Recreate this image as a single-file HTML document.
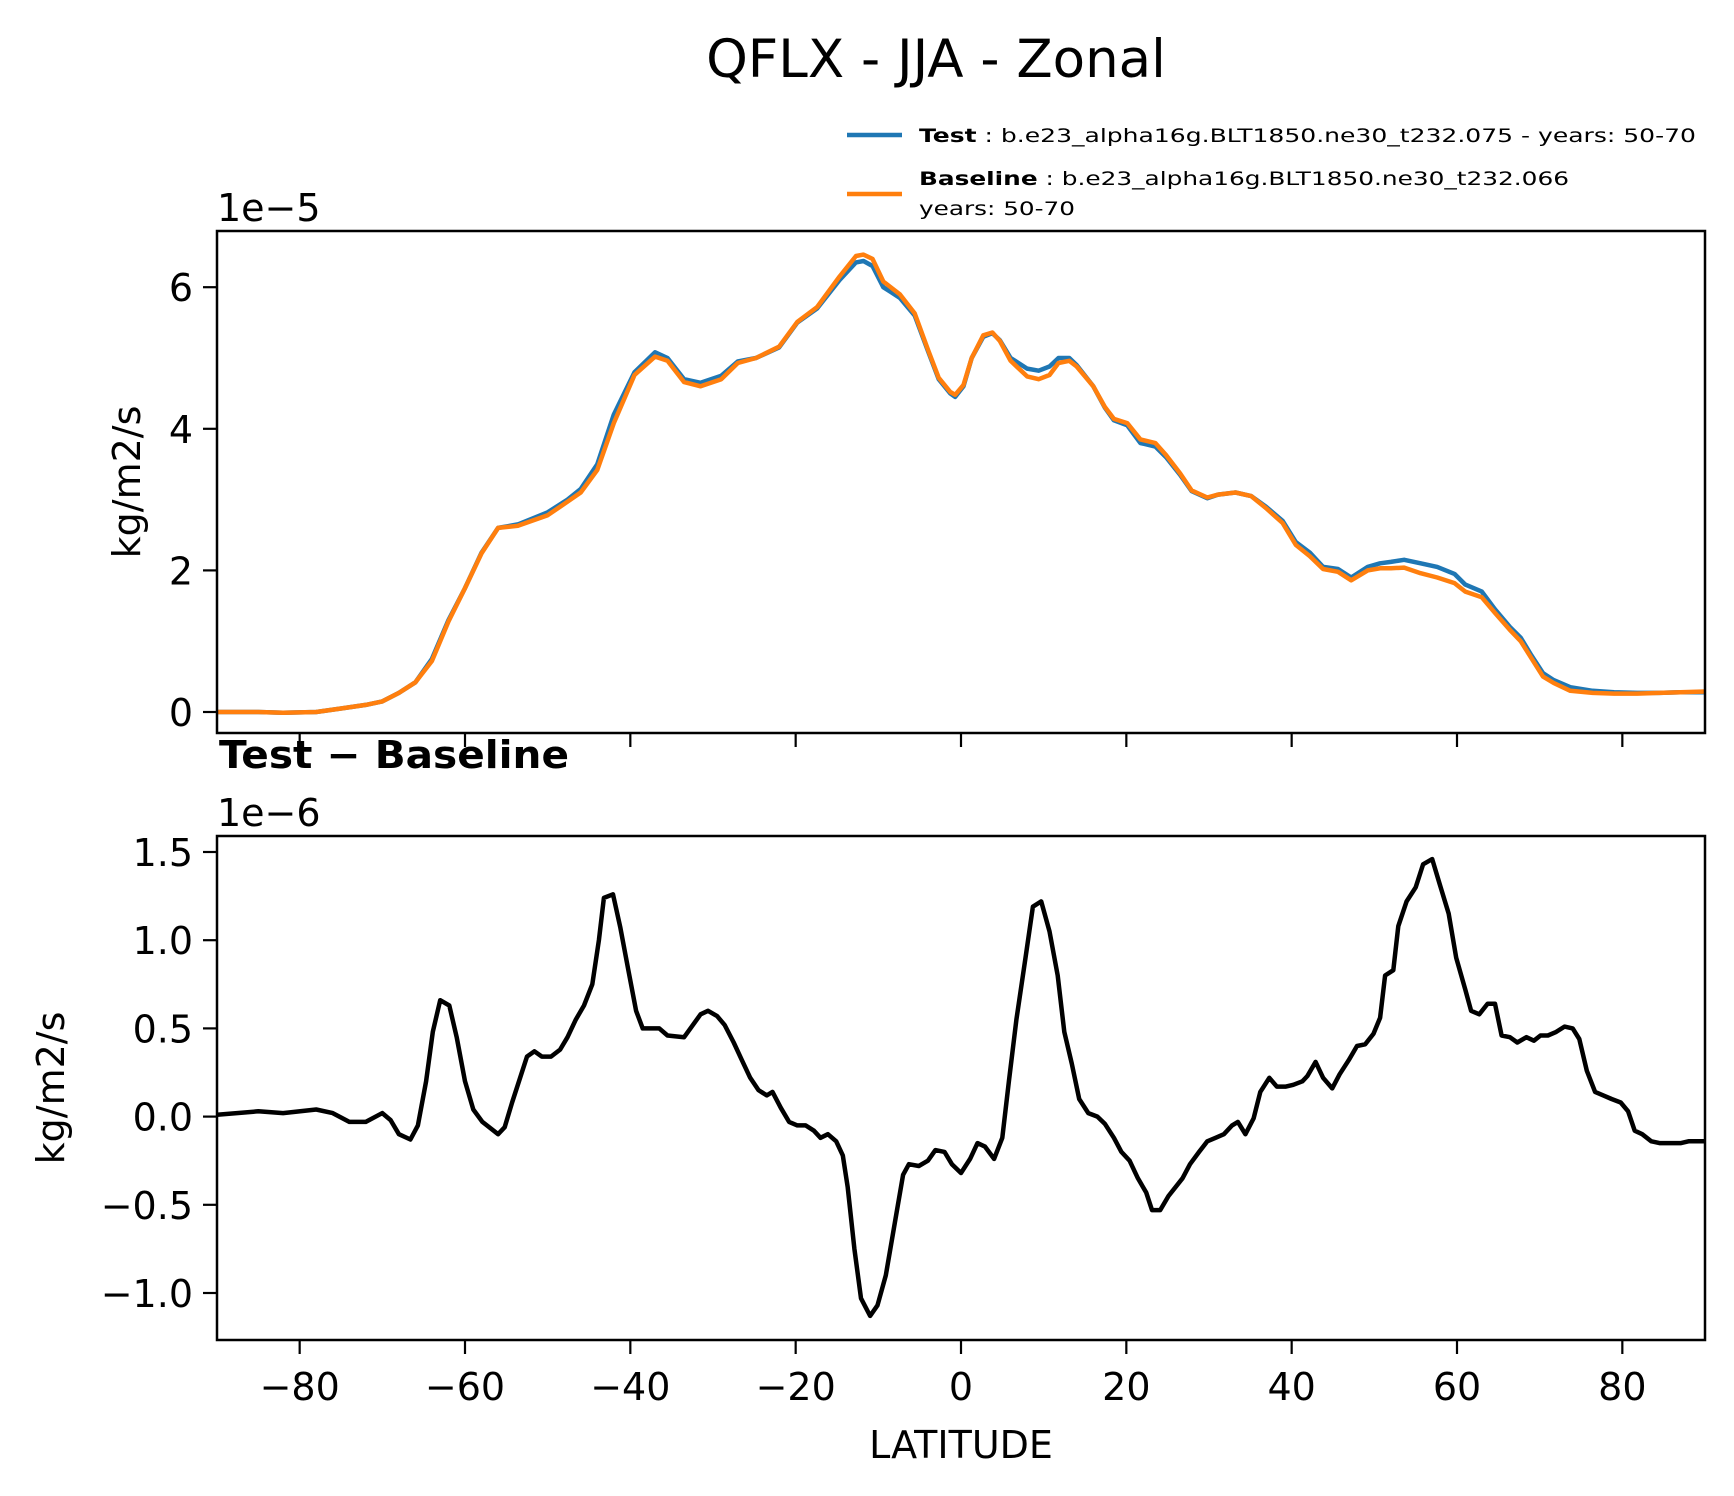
<!DOCTYPE html>
<html><head><meta charset="utf-8"><style>
html,body{margin:0;padding:0;background:#fff;}
svg{display:block;font-family:"DejaVu Sans","Liberation Sans",sans-serif;}
</style></head><body>
<svg id="fig" width="1734" height="1496" viewBox="0 0 1734 1496" xmlns="http://www.w3.org/2000/svg">
<text x="936" y="77" font-size="53" text-anchor="middle">QFLX - JJA - Zonal</text>
<g>
<line x1="847" y1="135" x2="902" y2="135" stroke="#1f77b4" stroke-width="4.5"/>
<text x="919" y="142" font-size="19" textLength="777" lengthAdjust="spacingAndGlyphs"><tspan font-weight="bold">Test</tspan> : b.e23_alpha16g.BLT1850.ne30_t232.075 - years: 50-70</text>
<line x1="847" y1="194" x2="902" y2="194" stroke="#ff7f0e" stroke-width="4.5"/>
<text x="919" y="185" font-size="19" textLength="650" lengthAdjust="spacingAndGlyphs"><tspan font-weight="bold">Baseline</tspan> : b.e23_alpha16g.BLT1850.ne30_t232.066</text>
<text x="919" y="215" font-size="19" textLength="156" lengthAdjust="spacingAndGlyphs">years: 50-70</text>
</g>
<g id="top"></g>
<g id="bot"></g>
<text x="219" y="768" font-size="38" font-weight="bold" textLength="350" lengthAdjust="spacingAndGlyphs">Test − Baseline</text>
<text x="961" y="1458" font-size="38" text-anchor="middle">LATITUDE</text>
</svg>
<script>
const topLat=[-90,-85,-82,-78,-75,-72,-70,-68,-66,-64,-62,-60,-58,-56,-53.6,-50,-47.6,-46,-44,-42,-39.5,-37,-35.5,-33.5,-31.5,-29,-27,-24.8,-22,-19.8,-17.4,-14.7,-12.7,-11.8,-10.7,-9.4,-7.4,-5.6,-4,-2.7,-1.3,-0.7,0.3,1.3,2.7,3.8,4.7,6,8,9.4,10.7,11.8,13.1,14,16,17.4,18.5,20.1,21.7,23.5,24.8,26.5,27.9,29.8,31.1,33.2,35.1,36.9,38.9,40.5,42.2,43.8,45.6,47.2,49.2,50.7,52,53.6,55.6,57.6,59.7,61,63,64.6,66.4,67.7,69,70.4,71.7,73.7,76.4,79,81.8,84.5,87,90];
const testVals=[0,0,-0.01,0,0.05,0.1,0.15,0.27,0.42,0.75,1.3,1.75,2.25,2.6,2.65,2.82,3.0,3.15,3.5,4.2,4.8,5.08,5.0,4.7,4.65,4.75,4.95,5.0,5.15,5.5,5.7,6.1,6.35,6.37,6.3,6.0,5.85,5.6,5.1,4.7,4.5,4.45,4.6,5.0,5.3,5.35,5.25,5.0,4.85,4.82,4.88,5.0,5.0,4.9,4.6,4.3,4.12,4.05,3.8,3.75,3.6,3.35,3.12,3.02,3.07,3.1,3.05,2.9,2.7,2.4,2.25,2.05,2.02,1.9,2.05,2.1,2.12,2.15,2.1,2.05,1.95,1.8,1.7,1.45,1.2,1.05,0.8,0.55,0.45,0.35,0.3,0.28,0.27,0.27,0.28,0.28];
const baseVals=[0,0,-0.01,0,0.05,0.1,0.15,0.27,0.42,0.72,1.28,1.75,2.24,2.6,2.63,2.78,2.97,3.1,3.42,4.08,4.76,5.02,4.96,4.66,4.6,4.7,4.93,5.0,5.16,5.51,5.72,6.15,6.44,6.46,6.4,6.08,5.9,5.63,5.12,4.72,4.52,4.48,4.62,5.0,5.32,5.36,5.24,4.96,4.74,4.7,4.76,4.93,4.96,4.88,4.6,4.31,4.14,4.08,3.85,3.8,3.63,3.37,3.13,3.03,3.07,3.1,3.05,2.88,2.67,2.36,2.2,2.02,1.98,1.86,2.0,2.03,2.03,2.04,1.96,1.9,1.82,1.7,1.62,1.4,1.16,1.0,0.76,0.5,0.41,0.3,0.27,0.26,0.26,0.27,0.28,0.29];
const diffLat=[-90,-85,-82,-78,-76,-74,-72,-70,-69,-68,-66.6,-65.7,-64.7,-63.9,-63,-61.9,-61,-60,-59,-57.9,-56,-55.2,-54.3,-52.5,-51.6,-50.7,-49.6,-48.5,-47.6,-46.6,-45.6,-44.6,-43.8,-43.2,-42.1,-41.2,-40.2,-39.3,-38.5,-36.5,-35.5,-33.5,-31.5,-30.6,-29.5,-28.6,-27.5,-26.5,-25.5,-24.5,-23.5,-22.8,-21.8,-20.8,-19.8,-18.8,-17.8,-17,-16.1,-15.1,-14.3,-13.7,-12.9,-12.1,-11,-10.1,-9.1,-8,-7,-6.3,-5.1,-4,-3.1,-2,-1.1,0,1.1,2,2.9,4,5,5.8,6.7,7.8,8.7,9.7,10.7,11.7,12.5,13.4,14.3,15.4,16.5,17.4,18.5,19.4,20.4,21.4,22.4,23.1,24.1,25.1,26.8,27.7,28.8,29.8,30.8,31.8,32.8,33.5,34.4,35.4,36.2,37.3,38.2,39.3,40.2,41.3,41.9,42.9,43.8,44.9,45.8,46.9,47.9,48.9,49.9,50.7,51.3,52.3,52.9,53.9,55,55.9,57,57.9,59,59.9,61,61.7,62.7,63.7,64.6,65.4,66.4,67.3,68.4,69.3,70.1,71,72,73,74,74.8,75.7,76.7,77.7,78.7,79.8,80.7,81.5,82.4,83.5,84.5,85.4,87.1,88,90];
const diffVals=[0.01,0.03,0.02,0.04,0.02,-0.03,-0.03,0.02,-0.02,-0.1,-0.13,-0.05,0.2,0.48,0.66,0.63,0.45,0.2,0.04,-0.03,-0.1,-0.06,0.08,0.34,0.37,0.34,0.34,0.38,0.45,0.55,0.63,0.75,1.0,1.24,1.26,1.07,0.82,0.6,0.5,0.5,0.46,0.45,0.58,0.6,0.57,0.52,0.42,0.32,0.22,0.15,0.12,0.14,0.05,-0.03,-0.05,-0.05,-0.08,-0.12,-0.1,-0.14,-0.22,-0.4,-0.75,-1.03,-1.13,-1.07,-0.9,-0.6,-0.33,-0.27,-0.28,-0.25,-0.19,-0.2,-0.27,-0.32,-0.24,-0.15,-0.17,-0.24,-0.12,0.2,0.55,0.9,1.19,1.22,1.05,0.8,0.48,0.3,0.1,0.02,0,-0.04,-0.12,-0.2,-0.25,-0.35,-0.43,-0.53,-0.53,-0.45,-0.35,-0.27,-0.2,-0.14,-0.12,-0.1,-0.05,-0.03,-0.1,-0.01,0.14,0.22,0.17,0.17,0.18,0.2,0.23,0.31,0.22,0.16,0.24,0.32,0.4,0.41,0.47,0.56,0.8,0.83,1.08,1.22,1.3,1.43,1.46,1.32,1.15,0.9,0.72,0.6,0.58,0.64,0.64,0.46,0.45,0.42,0.45,0.43,0.46,0.46,0.48,0.51,0.5,0.44,0.26,0.14,0.12,0.1,0.08,0.03,-0.08,-0.1,-0.14,-0.15,-0.15,-0.15,-0.14,-0.14];
const xTicks=[-80,-60,-40,-20,0,20,40,60,80];
const topTicks=[0,2,4,6];
const botTicks=[-1.0,-0.5,0.0,0.5,1.0,1.5];

const NS="http://www.w3.org/2000/svg";
const L=217,R=1705;
const xS=v=>L+(v+90)/180*(R-L);
const yTop=v=>712-v*70.8;
const yBot=v=>1116.6-v*176.4;
function mk(tag,attrs,parent){const e=document.createElementNS(NS,tag);for(const k in attrs)e.setAttribute(k,attrs[k]);parent.appendChild(e);return e;}
function fmtNum(v,d){let s=v.toFixed(d);return s.replace('-','\u2212');}

function panel(g,top,bot,yf,ticks,dec,expo,name,ylx){
  const clipId='clip'+name;
  const cp=mk('clipPath',{id:clipId},g);
  mk('rect',{x:L,y:top,width:R-L,height:bot-top},cp);
  const lines=mk('g',{'clip-path':'url(#'+clipId+')'},g);
  const frame=mk('rect',{x:L,y:top,width:R-L,height:bot-top,fill:'none',stroke:'#000','stroke-width':2.5},g);
  
  
  xTicks.forEach(t=>{
    const tk=mk('line',{x1:xS(t),x2:xS(t),y1:bot,y2:bot+14,stroke:'#000','stroke-width':2.2},g);
    
    
  });
  ticks.forEach(t=>{
    const tk=mk('line',{x1:L-14,x2:L,y1:yf(t),y2:yf(t),stroke:'#000','stroke-width':2.2},g);
    
    
    const tl=mk('text',{x:L-24,y:yf(t)+14,'font-size':38,'text-anchor':'end'},g);
    tl.textContent=fmtNum(t,dec);
    
    
  });
  const ex=mk('text',{x:217,y:top-10,'font-size':38},g);
  ex.textContent=expo;
  
  
  const yl=mk('text',{x:0,y:0,'font-size':38,'text-anchor':'middle',transform:'translate('+ylx+','+((top+bot)/2)+') rotate(-90)'},g);
  yl.textContent='kg/m2/s';
  
  
  return lines;
}
function path(lats,vals,yf){return lats.map((l,i)=>(i?'L':'M')+xS(l).toFixed(1)+','+yf(vals[i]).toFixed(1)).join('');}

const tg=document.getElementById('top');
const tl=panel(tg,231,733,yTop,topTicks,0,'1e\u22125','top',140);
const p1=mk('path',{d:path(topLat,testVals,yTop),fill:'none',stroke:'#1f77b4','stroke-width':4.5,'stroke-linejoin':'round'},tl);


const p2=mk('path',{d:path(topLat,baseVals,yTop),fill:'none',stroke:'#ff7f0e','stroke-width':4.5,'stroke-linejoin':'round'},tl);



const bg=document.getElementById('bot');
const bl=panel(bg,836,1340,yBot,botTicks,1,'1e\u22126','diff',64);
const p3=mk('path',{d:path(diffLat,diffVals,yBot),fill:'none',stroke:'#000','stroke-width':4.5,'stroke-linejoin':'round'},bl);


xTicks.forEach(t=>{
  const lb=mk('text',{x:xS(t),y:1400,'font-size':38,'text-anchor':'middle'},bg);
  lb.textContent=fmtNum(t,0);
  
  
});
</script>
</body></html>
